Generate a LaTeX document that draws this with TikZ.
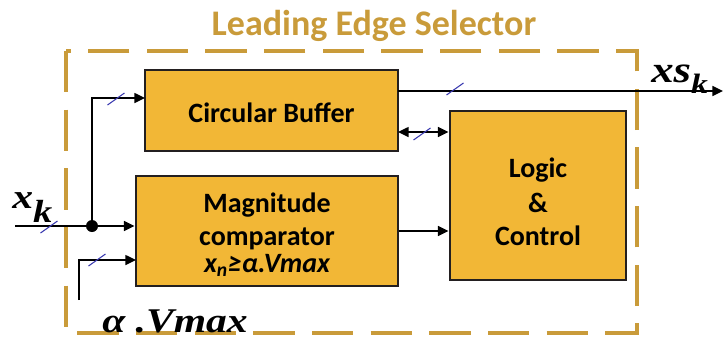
\documentclass[tikz,border=0pt]{standalone}
\usepackage{fontspec}
\setmainfont{Carlito}
\newfontfamily\labelfont[FakeStretch=1.2]{Liberation Serif}
\usetikzlibrary{arrows.meta,calc}
\definecolor{gold}{HTML}{C99B3A}
\definecolor{boxfill}{HTML}{F2B736}
\definecolor{boxline}{HTML}{231F20}
\definecolor{busmark}{HTML}{3B3BB0}
\tikzset{
  block/.style={draw=boxline, line width=2.2pt, fill=boxfill, inner sep=0pt},
  blocktext/.style={anchor=base, inner sep=0pt, font=\fontsize{21}{26}\selectfont\bfseries},
  wire/.style={draw=black, line width=1.1pt},
  arrowwire/.style={wire, -{Triangle[length=8pt,width=7.5pt]}},
  dualwire/.style={wire, {Triangle[length=8pt,width=7.5pt]}-{Triangle[length=8pt,width=7.5pt]}},
  busslash/.pic={\draw[busmark, line width=0.8pt] (-8.5,6) -- (8.5,-6);},
  siglabel/.style={anchor=base west, inner sep=0pt, font=\labelfont\bfseries\itshape}
}
\begin{document}
\begin{tikzpicture}[x=0.75pt, y=-0.75pt]
\useasboundingbox (0,0) rectangle (723,340);

% enclosing dashed frame and title
\draw[gold, line width=3pt, dash pattern=on 31pt off 13pt] (66,51) rectangle (637,333);
\node[anchor=base, inner sep=0pt, text=gold, font=\fontsize{27}{30}\selectfont\bfseries] (title) at (374,35) {Leading Edge Selector};

% processing blocks
\node[block, minimum width=253*0.75pt, minimum height=81*0.75pt] (cb) at (271.5,110.5) {};
\node[block, minimum width=262*0.75pt, minimum height=110*0.75pt] (cmp) at (267,231) {};
\node[block, minimum width=176*0.75pt, minimum height=169*0.75pt] (lg) at (538,195.5) {};

% block captions, one node per line
\node[blocktext] (cbt) at (cb.center |- 0,122) {Circular Buffer};
\node[blocktext] (cmpa) at (cmp.center |- 0,212) {Magnitude};
\node[blocktext] (cmpb) at (cmp.center |- 0,245) {comparator};
\node[blocktext] (cmpc) at (cmp.center |- 0,272) {\itshape x\textsubscript{n}≥α.Vmax};
\node[blocktext] (lga) at (lg.center |- 0,177) {Logic};
\node[blocktext] (lgb) at (lg.center |- 0,212) {\&};
\node[blocktext] (lgc) at (lg.center |- 0,245) {Control};

% signal end points
\coordinate (xin) at (15,226);
\coordinate (tap) at (92,226);
\coordinate (cbin) at (145,98);
\coordinate (vin) at (79,300);
\coordinate (vref) at (136,260);
\coordinate (out) at (723,91);
\coordinate (cbout) at (398,91);
\coordinate (link) at (398,132);

% connectors
\draw[arrowwire] (xin) -- (xin -| cmp.west);
\fill (tap) circle (6);
\draw[arrowwire] (tap) |- (cbin);
\draw[arrowwire] (vin) |- (vref);
\draw[arrowwire] (cbout) -- (out);
\draw[dualwire] (link) -- (link -| lg.west);
\draw[arrowwire] (cmp.east) -- (cmp.east -| lg.west);

% bus width marks
\pic at (49,227) {busslash};
\pic at (116,99) {busslash};
\pic at (97,260) {busslash};
\pic at (455,89) {busslash};
\pic at (422,134) {busslash};

% signal names
\node[siglabel, font=\labelfont\bfseries\itshape\fontsize{26}{26}\selectfont] (xk) at (12,208)
  {x\raisebox{-10.5pt}{\fontsize{24}{24}\selectfont k}};
\node[siglabel, font=\labelfont\bfseries\itshape\fontsize{28}{28}\selectfont] (xsk) at (651,82)
  {xs\raisebox{-8.25pt}{\fontsize{21}{21}\selectfont k}};
\node[siglabel, font=\labelfont\bfseries\itshape\fontsize{26}{26}\selectfont] (vmax) at (102,332)
  {α .Vmax};
\end{tikzpicture}
\end{document}
